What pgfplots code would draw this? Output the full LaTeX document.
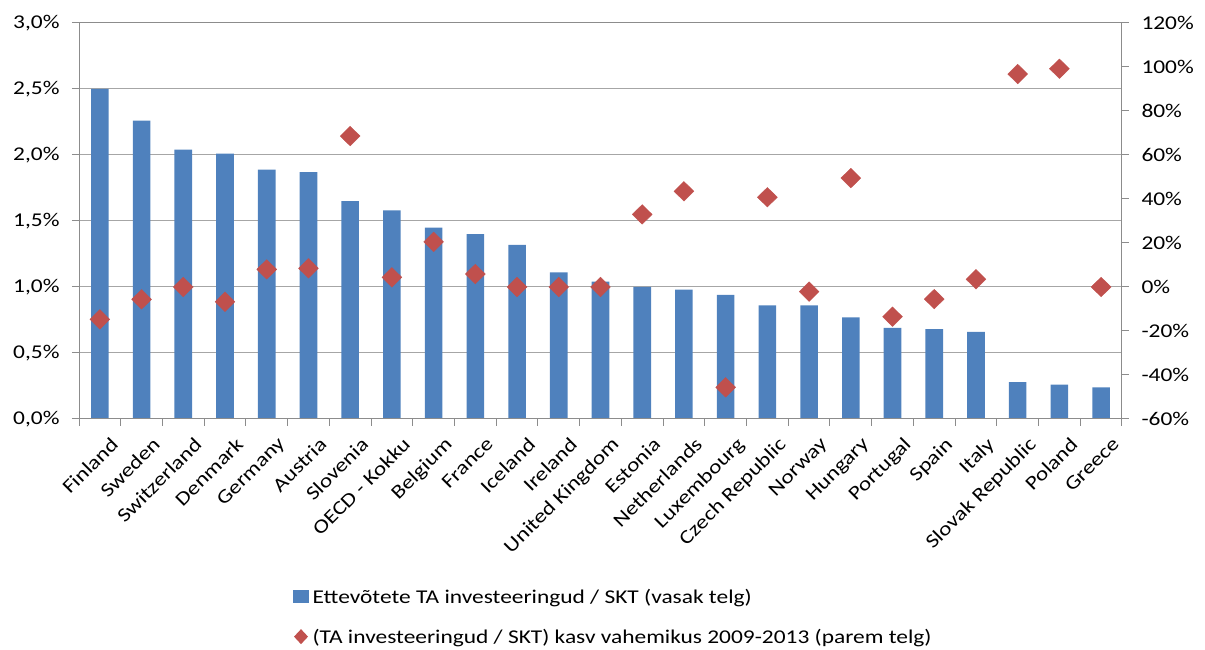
\documentclass[border=0pt]{standalone}
\usepackage{fontspec}
\setmainfont{Carlito}[FakeStretch=1.2]
\usepackage{pgfplots}
\pgfplotsset{compat=1.18}
\definecolor{barblue}{HTML}{4F81BD}
\definecolor{dred}{HTML}{C0504D}
\definecolor{gridc}{HTML}{A6A6A6}
\definecolor{axc}{HTML}{8C8C8C}
\newcommand{\fs}{\fontsize{19.5}{23}\selectfont}
\pgfplotstableread{
x bar
0 2.50
1 2.26
2 2.04
3 2.01
4 1.89
5 1.87
6 1.65
7 1.58
8 1.45
9 1.40
10 1.32
11 1.11
12 1.04
13 1.00
14 0.98
15 0.94
16 0.86
17 0.86
18 0.77
19 0.69
20 0.68
21 0.66
22 0.28
23 0.26
24 0.24
}\bars
\pgfplotstableread{
x g
0 -14.7
1 -5.6
2 0.0
3 -6.7
4 8.0
5 8.5
6 68.6
7 4.4
8 20.5
9 5.9
10 0.0
11 0.0
12 0.0
13 33.0
14 43.5
15 -45.6
16 40.8
17 -2.1
18 49.5
19 -13.5
20 -5.5
21 3.5
22 96.8
23 99.2
24 0.0
}\growth
\begin{document}
\begin{tikzpicture}[font=\fs]
\useasboundingbox (0,0) rectangle (1205pt,650pt);
\begin{axis}[
  at={(79pt,231pt)}, anchor=south west,
  scale only axis, width=1043pt, height=396pt,
  xmin=-0.5, xmax=24.5, ymin=0, ymax=3,
  axis line style={axc, line width=1pt},
  ytick pos=left,
  ytick={0,0.5,...,3},
  yticklabels={{0,0\%},{0,5\%},{1,0\%},{1,5\%},{2,0\%},{2,5\%},{3,0\%}},
  ymajorgrids, grid style={gridc, line width=1pt},
  tick align=outside, major tick length=7pt,
  tick style={axc, line width=1pt},
  xtick={0,...,24},
  xtick style={draw=none},
  xticklabels={Finland,Sweden,Switzerland,Denmark,Germany,Austria,Slovenia,OECD - Kokku,Belgium,France,Iceland,Ireland,United Kingdom,Estonia,Netherlands,Luxembourg,Czech Republic,Norway,Hungary,Portugal,Spain,Italy,Slovak Republic,Poland,Greece},
  xticklabel style={rotate=45, anchor=north east, inner sep=1pt, xshift=1pt, yshift=-13pt, font=\fs},
  yticklabel style={font=\fs, xshift=-9pt},
]
\addplot[ybar, bar width=17.6pt, fill=barblue, draw=none] table[x=x,y=bar] {\bars};
\end{axis}
% boundary ticks on the category axis
\begin{axis}[
  at={(79pt,231pt)}, anchor=south west,
  scale only axis, width=1043pt, height=396pt,
  xmin=-0.5, xmax=24.5, ymin=0, ymax=1,
  hide y axis, axis x line*=bottom,
  x axis line style={-, axc, line width=1pt},
  xtick={-0.5,0.5,...,24.5}, xticklabels={},
  tick align=outside, major tick length=7pt,
  tick style={axc, line width=1pt},
]
\addplot[draw=none] coordinates {(0,0.5)};
\end{axis}
\begin{axis}[
  at={(79pt,231pt)}, anchor=south west,
  scale only axis, width=1043pt, height=396pt,
  xmin=-0.5, xmax=24.5, ymin=-60, ymax=120,
  axis x line=none, axis y line*=right,
  y axis line style={-, axc, line width=1pt},
  ytick={-60,-40,...,120},
  yticklabels={-60\%,-40\%,-20\%,0\%,20\%,40\%,60\%,80\%,100\%,120\%},
  yticklabel style={font=\fs, xshift=9pt},
  tick align=outside, major tick length=7pt,
  tick style={axc, line width=1pt},
  legend style={at={(0.205,-0.425)}, anchor=north west, draw=none, fill=none,
    font=\fs, row sep=21pt, inner sep=0pt, nodes={inner sep=1.5pt}},
  legend cell align=left,
  clip=false,
]
\addlegendimage{legend image code/.code={\fill[barblue, draw=none] (0pt,-6.5pt) rectangle (16pt,6.5pt); \path[draw=none, fill=none] (0pt,-1pt) rectangle (18pt,1pt);}}
\addlegendentry{Ettevõtete TA investeeringud / SKT (vasak telg)}
\addplot[only marks, mark=diamond*, mark size=9.8pt, color=dred, mark options={xscale=1.35},
  legend image code/.code={\fill[dred, draw=none] (8pt,7.5pt) -- (15pt,0pt) -- (8pt,-7.5pt) -- (1pt,0pt) -- cycle; \path[draw=none, fill=none] (0pt,-1pt) rectangle (18pt,1pt);}] table[x=x,y=g] {\growth};
\addlegendentry{(TA investeeringud / SKT) kasv vahemikus 2009-2013 (parem telg)}
\end{axis}
\end{tikzpicture}
\end{document}
